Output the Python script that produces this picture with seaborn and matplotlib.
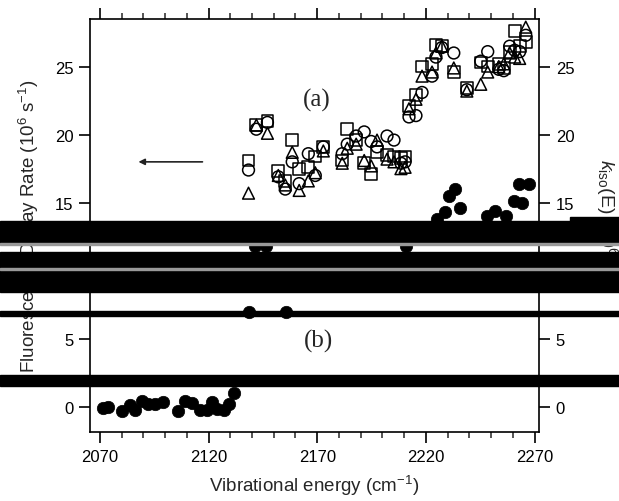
import numpy as np
import pandas as pd
import matplotlib
matplotlib.use("Agg")
import matplotlib.pyplot as plt
import seaborn as sns
from matplotlib.patches import Rectangle
from matplotlib.ticker import MultipleLocator

# open symbols (a): k_iso(E) for three sets
energy_a = [2138.4, 2142.0, 2147.1, 2152.1, 2155.3, 2158.5, 2161.7, 2165.9, 2169.1,
            2172.8, 2181.5, 2183.8, 2187.9, 2191.6, 2194.8, 2197.5, 2202.1, 2205.3,
            2208.5, 2210.4, 2212.2, 2215.4, 2218.2, 2222.8, 2224.6, 2227.3, 2232.8,
            2238.8, 2245.2, 2248.4, 2253.5, 2255.8, 2258.5, 2260.8, 2263.1, 2265.9]
k_square = [18.1, 20.7, 21.0, 17.3, 16.6, 19.6, 17.5, 17.6, 18.4,
            19.1, 18.1, 20.4, 19.6, 17.9, 17.1, 18.7, 18.5, 18.4,
            18.3, 18.4, 22.1, 22.9, 25.0, 25.2, 26.6, 26.5, 24.6,
            23.4, 25.3, 25.0, 25.2, 24.9, 26.1, 27.6, 26.5, 26.8]
k_circle = [17.4, 20.4, 20.9, 16.9, 16.0, 18.0, 16.4, 18.6, 17.0,
            19.1, 18.6, 19.3, 19.9, 20.2, 19.5, 19.1, 19.9, 19.6,
            17.9, 18.0, 21.3, 21.4, 23.1, 24.3, 25.7, 26.4, 26.0,
            23.3, 25.4, 26.1, 24.8, 24.7, 26.5, 26.2, 26.1, 27.3]
k_triangle = [15.7, 20.7, 20.1, 17.0, 16.3, 18.7, 15.9, 16.6, 17.2,
              18.8, 17.9, 19.0, 19.3, 18.1, 17.7, 19.6, 18.2, 18.0,
              17.5, 17.6, 21.9, 22.6, 24.3, 24.6, 26.0, 26.5, 24.9,
              23.2, 23.7, 24.6, 25.0, 25.2, 26.0, 25.7, 25.6, 27.9]

# filled circles (b): fluorescence decay rate
energy_b = [2071.4, 2073.7, 2080.1, 2083.8, 2086.1, 2089.3, 2092.0, 2095.2, 2098.9,
            2105.8, 2109.0, 2112.2, 2115.9, 2119.1, 2121.8, 2124.1, 2127.3, 2129.6,
            2131.9, 2138.8, 2141.5, 2146.5, 2155.8, 2211.0,
            2225.0, 2228.6, 2230.8, 2233.2, 2235.7, 2248.0, 2251.8, 2256.6,
            2260.3, 2262.8, 2264.3, 2267.2]
fluor = [-0.1, 0.0, -0.3, 0.1, -0.2, 0.4, 0.2, 0.2, 0.35,
         -0.3, 0.45, 0.3, -0.2, -0.2, 0.35, -0.15, -0.2, 0.2,
         1.0, 6.95, 11.8, 11.8, 6.95, 11.8,
         13.8, 14.3, 15.5, 16.0, 14.6, 14.0, 14.4, 14.0,
         15.1, 16.4, 15.0, 16.4]

df_a = pd.DataFrame({"E": energy_a, "sq": k_square, "ci": k_circle, "tr": k_triangle})
df_b = pd.DataFrame({"E": energy_b, "rate": fluor})

sns.set_style("ticks")
plt.rcParams["font.family"] = ["Liberation Sans", "DejaVu Sans"]
plt.rcParams["mathtext.fontset"] = "custom"
plt.rcParams["mathtext.rm"] = "Liberation Sans"
plt.rcParams["mathtext.it"] = "Liberation Sans:italic"

fig = plt.figure(figsize=(6.19, 5.02), dpi=100)
ax = fig.add_axes([0.1454, 0.1375, 0.7254, 0.8227])

for col, mk in [("sq", "s"), ("ci", "o"), ("tr", "^")]:
    sns.scatterplot(data=df_a, x="E", y=col, marker=mk, s=72, facecolors="none",
                    edgecolor="black", linewidth=1.1, ax=ax, zorder=3)
sns.scatterplot(data=df_b, x="E", y="rate", marker="o", s=80, color="black",
                edgecolor="black", linewidth=0.5, ax=ax, zorder=3)

ax.set_xlim(2065.5, 2272)
ax.set_ylim(-1.85, 28.5)
ax.xaxis.set_minor_locator(MultipleLocator(10))
ax.yaxis.set_major_locator(MultipleLocator(5))
ax.set_xticks([2070, 2120, 2170, 2220, 2270])

ax.tick_params(axis="both", which="major", direction="out", length=8, width=1.2,
               labelsize=12, pad=4, colors="black")
ax.tick_params(axis="x", which="minor", direction="out", length=4, width=1.1)
ax.tick_params(axis="x", top=True, which="both")
ax.tick_params(axis="y", right=True, labelright=True)
for sp in ax.spines.values():
    sp.set_visible(True)
    sp.set_linewidth(1.2)
    sp.set_color("black")

ax.set_xlabel("Vibrational energy (cm$^{-1}$)", fontsize=13.5, labelpad=7)
ax.set_ylabel("Fluorescence Decay Rate (10$^{6}$ s$^{-1}$)", fontsize=13.5, labelpad=10)
ax2 = ax.secondary_yaxis("right")
ax2.set_yticks([])
ax2.spines["right"].set_visible(False)
ax2.set_ylabel("$k_{\\rm iso}$(E) (10$^{6}$ s$^{-1}$)", fontsize=14, rotation=270,
               labelpad=58)

ax.text(2170, 22.6, "(a)", fontsize=18, family="Liberation Serif", ha="center", va="center")
ax.text(2170.5, 4.85, "(b)", fontsize=18, family="Liberation Serif", ha="center", va="center")
ax.annotate("", xy=(2086.5, 18.0), xytext=(2118.5, 18.0),
            arrowprops=dict(arrowstyle="-|>", color="#222222", lw=1.2,
                            mutation_scale=9))

# scan artifacts: black bands across the page
W, H = 619, 502
bands = [(0, 222, 619, 22), (570, 218, 49, 6), (0, 253, 619, 16), (0, 271, 619, 22),
         (0, 312, 619, 5), (0, 376, 619, 11)]
for x0, y0, w, h in bands:
    fig.add_artist(Rectangle((x0 / W, 1 - (y0 + h) / H), w / W, h / H,
                             transform=fig.transFigure, color="black", zorder=10))
for y0 in [244, 269]:
    fig.add_artist(Rectangle((0, 1 - (y0 + 2) / H), 1, 2 / H,
                             transform=fig.transFigure, color="#999999", zorder=10))

fig.savefig("out.png", dpi=100)
